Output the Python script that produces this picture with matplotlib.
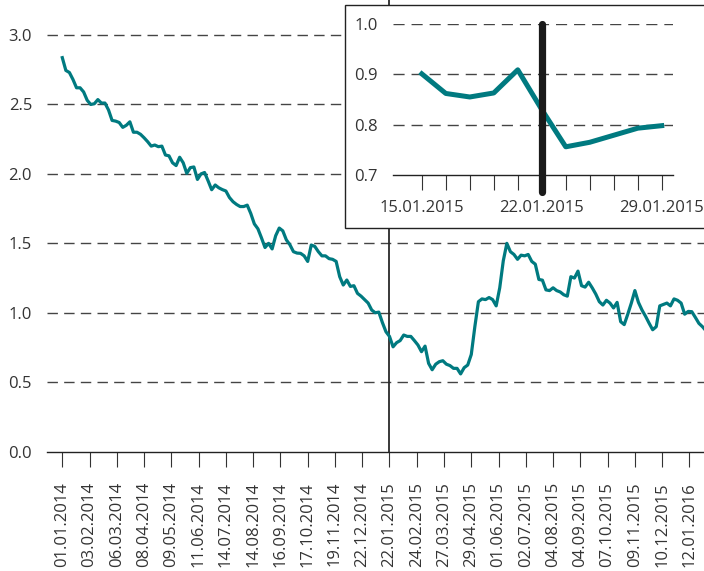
import numpy as np
import pandas as pd
import matplotlib
matplotlib.use("Agg")
import matplotlib.pyplot as plt
from matplotlib.patches import Rectangle

plt.rcParams["font.family"] = ["Open Sans", "DejaVu Sans"]
plt.rcParams["font.size"] = 12

TEAL = "#007a80"
TEXT = "#333333"
GRID = "#444444"

# ---------------------------------------------------------------------------
#  data
# ---------------------------------------------------------------------------

start_date = "2014-01-01"
sample_step = 3          # one value every 3 business days
main_values = [
    2.837, 2.745, 2.73, 2.68, 2.62, 2.62, 2.59, 2.53, 2.50, 2.505,
    2.535, 2.51, 2.51, 2.46, 2.385, 2.38, 2.37, 2.335, 2.35, 2.375,
    2.30, 2.30, 2.285, 2.26, 2.232, 2.20, 2.208, 2.196, 2.20, 2.136,
    2.13, 2.08, 2.06, 2.12, 2.08, 2.004, 2.045, 2.05, 1.96, 2.00,
    2.01, 1.95, 1.886, 1.92, 1.90, 1.887, 1.877, 1.83, 1.80, 1.78,
    1.765, 1.765, 1.775, 1.715, 1.64, 1.605, 1.54, 1.47, 1.50, 1.46,
    1.555, 1.61, 1.59, 1.525, 1.49, 1.44, 1.43, 1.428, 1.41, 1.37,
    1.488, 1.478, 1.44, 1.41, 1.41, 1.39, 1.385, 1.37, 1.26, 1.20,
    1.236, 1.19, 1.195, 1.14, 1.12, 1.095, 1.07, 1.02, 1.00, 1.005,
    0.93, 0.864, 0.83, 0.755, 0.785, 0.80, 0.84, 0.83, 0.83, 0.80,
    0.768, 0.72, 0.76, 0.636, 0.59, 0.63, 0.648, 0.655, 0.63, 0.62,
    0.60, 0.60, 0.56, 0.605, 0.624, 0.70, 0.90, 1.08, 1.10, 1.095,
    1.11, 1.095, 1.05, 1.18, 1.375, 1.50, 1.44, 1.42, 1.385, 1.415,
    1.41, 1.42, 1.37, 1.35, 1.24, 1.235, 1.165, 1.16, 1.18, 1.16,
    1.15, 1.13, 1.12, 1.26, 1.25, 1.30, 1.195, 1.185, 1.22, 1.18,
    1.135, 1.08, 1.056, 1.09, 1.07, 1.035, 1.075, 0.936, 0.915, 0.99,
    1.07, 1.16, 1.075, 1.02, 0.975, 0.925, 0.878, 0.90, 1.05, 1.06,
    1.07, 1.05, 1.10, 1.09, 1.07, 0.99, 1.01, 1.008, 0.967, 0.924,
    0.90, 0.87,
]
tick_every = 23          # business days between date labels
n_ticks = 24
main_yticks = [0.0, 0.5, 1.0, 1.5, 2.0, 2.5, 3.0]

inset_start, inset_end = "2015-01-15", "2015-01-29"
inset_values = [0.901, 0.862, 0.855, 0.863, 0.909, 0.83, 0.756, 0.765, 0.779, 0.793, 0.798]
inset_yticks = [0.7, 0.8, 0.9, 1.0]
event_date = "2015-01-22"

bdays = pd.bdate_range(start_date, periods=len(main_values) * sample_step)
x_main = np.arange(len(main_values)) * sample_step
tick_pos = np.arange(n_ticks) * tick_every
tick_labels = bdays[tick_pos].strftime("%d.%m.%Y")
event_pos = bdays.get_loc(pd.Timestamp(event_date))

inset_dates = pd.bdate_range(inset_start, inset_end)
x_inset = np.arange(len(inset_dates))
inset_event = inset_dates.get_loc(pd.Timestamp(event_date))
inset_labels = [d.strftime("%d.%m.%Y") if i % 5 == 0 else "" for i, d in enumerate(inset_dates)]

# ---------------------------------------------------------------------------
#  main chart
# ---------------------------------------------------------------------------

W, H = 704, 571
fig = plt.figure(figsize=(W / 100, H / 100), dpi=100)
ax = fig.add_axes([47 / W, 119.3 / H, 657 / W, 451.7 / H])

for y in main_yticks[1:]:
    ax.axhline(y, color=GRID, lw=1.0, dashes=(7.5, 4.5), zorder=1)
ax.axvline(event_pos, color="#2a2a2a", lw=1.3, zorder=1.5)
ax.plot(x_main, main_values, color=TEAL, lw=2.3, solid_joinstyle="round", zorder=3)

ax.set_xlim(-12.9, 541.3)
ax.set_ylim(0, 3.252)
ax.set_yticks(main_yticks, [f"{v:.1f}" for v in main_yticks])
ax.set_xticks(tick_pos, tick_labels, rotation=90)

for side in ("left", "top", "right"):
    ax.spines[side].set_visible(False)
ax.spines["bottom"].set_color("#222222")
ax.spines["bottom"].set_linewidth(1.0)
ax.tick_params(axis="y", length=0, pad=10.8, labelcolor=TEXT)
ax.tick_params(axis="x", length=10.8, width=0.8, color="#333333", pad=11, labelcolor=TEXT)

# ---------------------------------------------------------------------------
#  inset (zoom on the event window)
# ---------------------------------------------------------------------------

box = Rectangle((345 / W, (H - 228) / H), 0.52, 223 / H, transform=fig.transFigure,
                facecolor="white", edgecolor="#222222", lw=1.0, zorder=5)
fig.add_artist(box)

axi = fig.add_axes([393 / W, (H - 175) / H, 280 / W, 151 / H])
axi.set_zorder(6)
axi.patch.set_alpha(0)

for y in inset_yticks[1:]:
    axi.axhline(y, color=GRID, lw=1.0, dashes=(8, 5), zorder=1)
axi.plot(x_inset, inset_values, color=TEAL, lw=3.6, solid_joinstyle="round", zorder=3)
axi.axvline(inset_event, ymin=-0.11, ymax=1.0, color="#1a1a1a", lw=5.2,
            solid_capstyle="round", clip_on=False, zorder=4)

axi.set_xlim(-1.2, 10.47)
axi.set_ylim(0.7, 1.0)
axi.set_yticks(inset_yticks, [f"{v:.1f}" for v in inset_yticks])
axi.set_xticks(x_inset, inset_labels)

for side in ("left", "top", "right"):
    axi.spines[side].set_visible(False)
axi.spines["bottom"].set_color("#222222")
axi.spines["bottom"].set_linewidth(1.0)
axi.tick_params(axis="y", length=0, pad=10.8, labelcolor=TEXT)
axi.tick_params(axis="x", length=10.8, width=0.8, color="#333333", pad=7, labelcolor=TEXT)

fig.savefig("out.png", dpi=100)
